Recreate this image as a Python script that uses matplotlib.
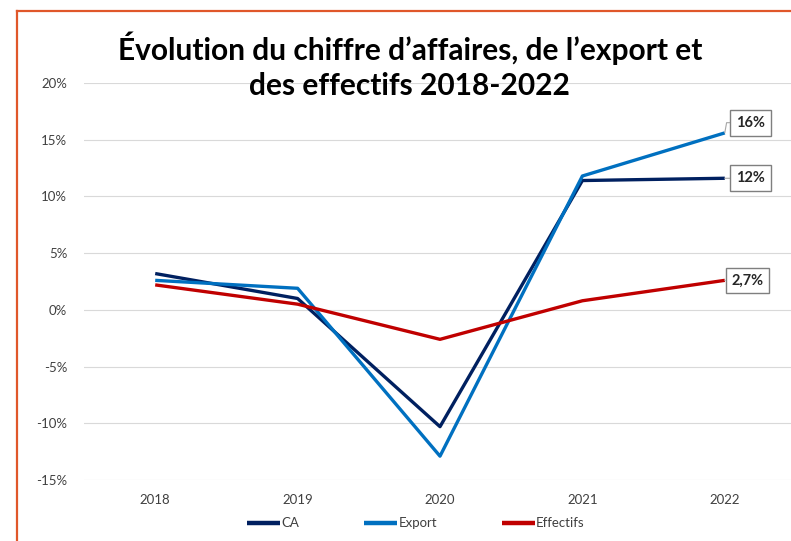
import matplotlib
matplotlib.use('Agg')
import matplotlib.pyplot as plt
from matplotlib.lines import Line2D
from matplotlib.ticker import FuncFormatter

plt.rcParams['font.family'] = ['Lato', 'DejaVu Sans']

# Données (en %)
annees = ['2018', '2019', '2020', '2021', '2022']
ca = [3.2, 1.0, -10.3, 11.4, 11.6]
export = [2.6, 1.9, -12.9, 11.8, 15.6]
effectifs = [2.2, 0.5, -2.6, 0.8, 2.6]
etiquettes = ['12%', '16%', '2,7%']

fig = plt.figure(figsize=(7.91, 5.41), dpi=100)
ax = fig.add_axes([0.1062, 0.1128, 0.9001, 0.7338])

x = range(len(annees))
ax.plot(x, ca, color='#002060', lw=2.4, label='CA', solid_capstyle='butt', zorder=3)
ax.plot(x, export, color='#0070C0', lw=2.4, label='Export', solid_capstyle='butt', zorder=3)
ax.plot(x, effectifs, color='#C00000', lw=2.4, label='Effectifs', solid_capstyle='butt', zorder=3)

ax.set_xlim(-0.5, 4.5)
ax.set_ylim(-15, 20)
ax.set_yticks(range(-15, 21, 5))
ax.yaxis.set_major_formatter(FuncFormatter(lambda v, p: f'{v:.0f}%'))
ax.set_xticks(list(x))
ax.set_xticklabels(annees)
ax.grid(axis='y', color='#D9D9D9', lw=0.8)
ax.set_axisbelow(True)
for s in ax.spines.values():
    s.set_visible(False)
ax.tick_params(length=0, colors='#404040', labelsize=9.5)
ax.tick_params(axis='y', pad=12)
ax.tick_params(axis='x', pad=10)

# Étiquettes de fin de courbe
boite = dict(boxstyle='square,pad=0.4', fc='white', ec='#7F7F7F', lw=1)
fleche = dict(arrowstyle='-', color='#A6A6A6', lw=0.8, shrinkA=0, shrinkB=0)
ax.annotate(etiquettes[1], xy=(4, export[4]), xytext=(4.18, 16.5), ha='center', va='center',
            fontsize=10.5, fontweight='bold', color='#262626', bbox=boite,
            arrowprops=dict(fleche, connectionstyle='angle,angleA=0,angleB=80,rad=0'))
ax.annotate(etiquettes[0], xy=(4, ca[4]), xytext=(4.18, 11.6), ha='center', va='center',
            fontsize=10.5, fontweight='bold', color='#262626', bbox=boite, arrowprops=fleche)
ax.annotate(etiquettes[2], xy=(4, effectifs[4]), xytext=(4.16, 2.6), ha='center', va='center',
            fontsize=10.5, fontweight='bold', color='#262626', bbox=boite, arrowprops=fleche)

fig.text(0.518, 0.878, 'Évolution du chiffre d\u2019affaires, de l\u2019export et\ndes effectifs 2018-2022',
         ha='center', va='center', fontsize=21.5, fontweight='bold', color='black', linespacing=1.3)

leg = ax.legend(loc='center', bbox_to_anchor=(0.466, -0.109), ncol=3, frameon=False,
                fontsize=9.5, handlelength=2.5, handletextpad=0.1, columnspacing=4.9,
                labelcolor='#404040')
for h in leg.legend_handles:
    h.set_linewidth(3.2)

# Cadre orange
fig.add_artist(Line2D([17 / 791, 1], [1 - 11 / 541, 1 - 11 / 541], color='#E0572A', lw=1.6))
fig.add_artist(Line2D([17 / 791, 17 / 791], [0, 1 - 11 / 541], color='#E0572A', lw=1.6))

fig.savefig('out.png', dpi=100)
